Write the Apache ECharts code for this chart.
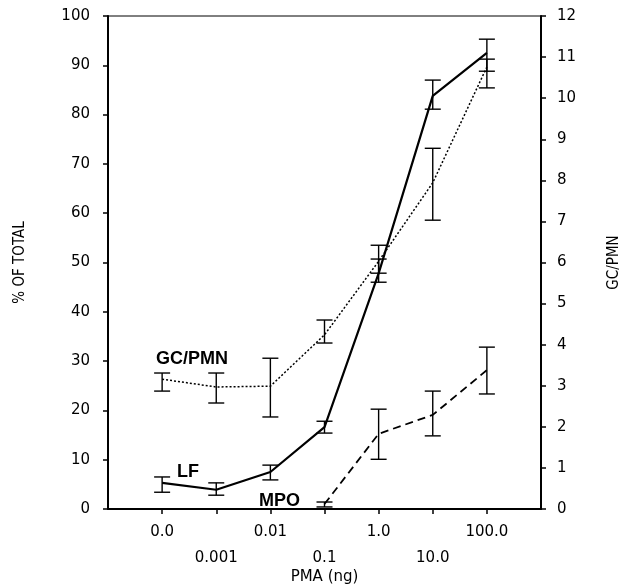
<!DOCTYPE html>
<html>
<head>
<meta charset="utf-8">
<script src="https://cdn.jsdelivr.net/npm/echarts@6/dist/echarts.min.js"></script>
<style>
  html, body { margin: 0; background: #fff; }
  #chart { width: 628px; height: 588px; }
</style>
</head>
<body>
<div id="chart"></div>
<script>
// PMA dose categories, plotted at positions 0..6
const doses = ['0.0', '0.001', '0.01', '0.1', '1.0', '10.0', '100.0']
const positions = [0, 1, 2, 3, 4, 5, 6]

// LF, % of total (left axis)
const lfMean = [5.3, 3.9, 7.5, 16.6, 47.8, 83.8, 92.5]
const lfLow = [3.4, 2.8, 5.9, 15.4, 46.0, 81.1, 88.8]
const lfHigh = [6.5, 5.3, 8.9, 17.8, 50.7, 87.0, 95.3]

// GC/PMN (right axis)
const gcMean = [3.16, 2.97, 2.99, 4.24, 6.03, 7.94, 10.76]
const gcLow = [2.87, 2.58, 2.24, 4.04, 5.74, 7.03, 10.25]
const gcHigh = [3.31, 3.31, 3.67, 4.6, 6.42, 8.78, 10.95]

// MPO (right axis), nothing measured below 0.1
const mpoMean = [null, null, null, 0.12, 1.83, 2.29, 3.38]
const mpoLow = [null, null, null, 0.05, 1.21, 1.78, 2.8]
const mpoHigh = [null, null, null, 0.17, 2.43, 2.87, 3.94]

const leftTicks = { min: 0, max: 100, interval: 10 }
const rightTicks = { min: 0, max: 12, interval: 1 }

const tickFont = { fontFamily: 'DejaVu Sans', fontSize: 15, color: '#000' }
const nameFont = { fontFamily: 'Liberation Sans Narrow, DejaVu Sans Condensed', fontSize: 15, color: '#000' }

function toPoints(values) {
  return positions.map((p, i) => [p, values[i]]).filter(d => d[1] != null)
}

function errorBars(low, high, yAxisIndex) {
  return {
    type: 'custom',
    yAxisIndex: yAxisIndex,
    silent: true,
    z: 3,
    data: positions.map((p, i) => [p, low[i], high[i]]).filter(d => d[1] != null),
    renderItem(params, api) {
      const lo = api.coord([api.value(0), api.value(1)])
      const hi = api.coord([api.value(0), api.value(2)])
      const w = 8
      const st = { stroke: '#000', lineWidth: 1.4 }
      return {
        type: 'group',
        children: [
          { type: 'line', shape: { x1: lo[0], y1: lo[1], x2: hi[0], y2: hi[1] }, style: st },
          { type: 'line', shape: { x1: lo[0] - w, y1: lo[1], x2: lo[0] + w, y2: lo[1] }, style: st },
          { type: 'line', shape: { x1: hi[0] - w, y1: hi[1], x2: hi[0] + w, y2: hi[1] }, style: st }
        ]
      }
    }
  }
}

let myEcharts = echarts.init(document.getElementById('chart'))
myEcharts.setOption({
  animation: false,
  backgroundColor: '#fff',
  grid: {
    left: 108, right: 87, top: 16, bottom: 79,
    outerBoundsMode: 'none',
    show: true, borderColor: '#000', borderWidth: 1
  },
  xAxis: {
    type: 'value',
    min: -1, max: 7, interval: 1,
    name: 'PMA (ng)',
    nameLocation: 'middle',
    nameMoveOverlap: false,
    nameGap: 61,
    nameTextStyle: Object.assign({}, tickFont, { fontSize: 15 }),
    axisLine: { onZero: false, lineStyle: { color: '#000', width: 2 } },
    axisTick: { customValues: positions, length: 5, lineStyle: { color: '#000', width: 1.5 } },
    axisLabel: Object.assign({
      customValues: positions,
      margin: 10,
      lineHeight: 26,
      formatter: v => (v % 2 ? '\n' : '') + doses[v]
    }, tickFont),
    splitLine: { show: false }
  },
  yAxis: [
    Object.assign({
      type: 'value',
      position: 'left',
      name: '% OF TOTAL',
      nameLocation: 'middle',
      nameRotate: 90,
      nameGap: 80,
      nameTextStyle: nameFont,
      axisLine: { show: true, onZero: false, lineStyle: { color: '#000', width: 2 } },
      axisTick: { length: 5, lineStyle: { color: '#000', width: 1.5 } },
      axisLabel: Object.assign({ margin: 18 }, tickFont),
      splitLine: { show: false }
    }, leftTicks),
    Object.assign({
      type: 'value',
      position: 'right',
      name: 'GC/PMN',
      nameLocation: 'middle',
      nameRotate: 90,
      nameGap: 66,
      nameTextStyle: nameFont,
      axisLine: { show: true, onZero: false, lineStyle: { color: '#000', width: 2 } },
      axisTick: { length: 5, lineStyle: { color: '#000', width: 1.5 } },
      axisLabel: Object.assign({ margin: 16 }, tickFont),
      splitLine: { show: false }
    }, rightTicks)
  ],
  series: [
    {
      name: 'LF',
      type: 'line',
      yAxisIndex: 0,
      data: toPoints(lfMean),
      symbol: 'none',
      lineStyle: { color: '#000', width: 2.2, type: 'solid' },
      z: 4
    },
    {
      name: 'GC/PMN',
      type: 'line',
      yAxisIndex: 1,
      data: toPoints(gcMean),
      symbol: 'none',
      lineStyle: { color: '#000', width: 1.5, type: [2, 2] },
      z: 4
    },
    {
      name: 'MPO',
      type: 'line',
      yAxisIndex: 1,
      data: toPoints(mpoMean),
      symbol: 'none',
      lineStyle: { color: '#000', width: 1.8, type: [8, 5] },
      z: 4
    },
    errorBars(lfLow, lfHigh, 0),
    errorBars(gcLow, gcHigh, 1),
    errorBars(mpoLow, mpoHigh, 1)
  ],
  graphic: [
    { type: 'text', left: 156, top: 350, style: { text: 'GC/PMN', font: 'bold 18px Liberation Sans', fill: '#000' } },
    { type: 'text', left: 177, top: 463, style: { text: 'LF', font: 'bold 18px Liberation Sans', fill: '#000' } },
    { type: 'text', left: 259, top: 492, style: { text: 'MPO', font: 'bold 18px Liberation Sans', fill: '#000' } }
  ]
})
</script>
</body>
</html>
